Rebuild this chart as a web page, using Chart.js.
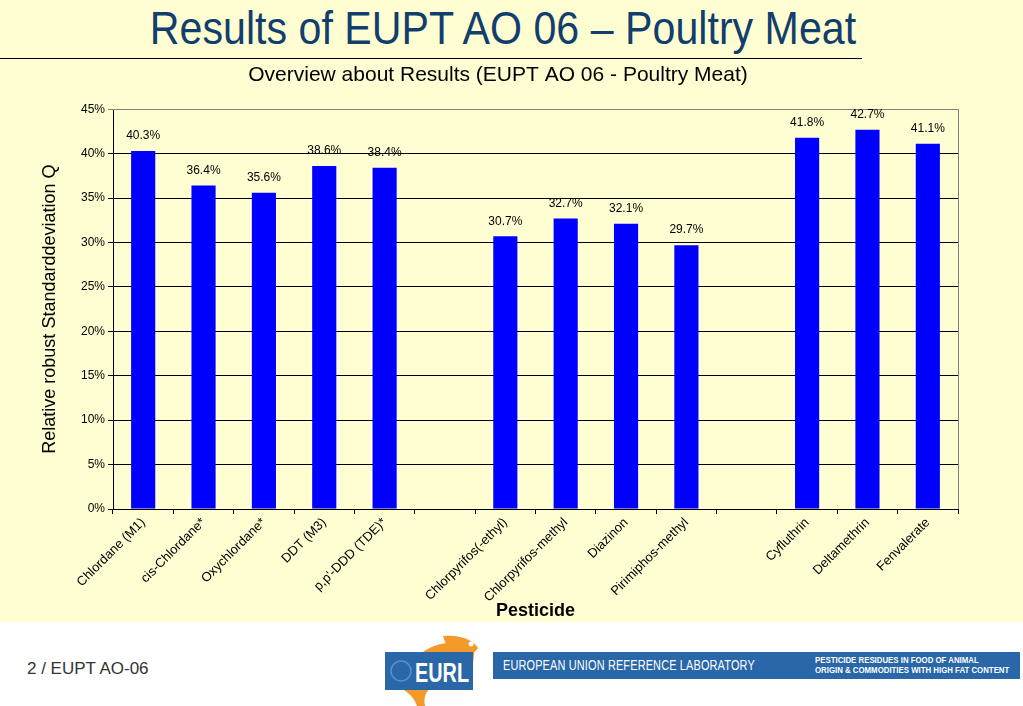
<!DOCTYPE html>
<html>
<head>
<meta charset="utf-8">
<script src="https://cdn.jsdelivr.net/npm/chart.js@4.4.1/dist/chart.umd.min.js"></script>
<style>
  html, body { margin:0; padding:0; }
  body { width:1023px; height:706px; position:relative; overflow:hidden; background:#fff; font-family:"Liberation Sans", Arial, sans-serif; }
  #slide { position:absolute; left:0; top:0; width:1023px; height:622px; background:#fefed2; }
  #heading { position:absolute; left:0; width:1006px; top:1px; text-align:center; font-size:46px; color:#123e6e; white-space:nowrap; transform:scaleX(0.895); transform-origin:503px 0; }
  #rule { position:absolute; left:0; top:58px; width:862px; height:1px; background:#000; }
  #wrap { position:absolute; left:0; top:60px; width:1023px; height:562px; }
  #footer { position:absolute; left:27px; top:659px; font-size:17px; color:#333; }
  #banner { position:absolute; left:493px; top:652px; width:527px; height:27px; background:#2a67a8; color:#fff; }
  #banner .l { position:absolute; left:10px; top:5px; font-size:14px; letter-spacing:0.2px; transform:scaleX(0.78); transform-origin:0 0; white-space:nowrap; }
  #banner .r { position:absolute; left:322px; top:3px; font-size:9px; font-weight:bold; line-height:10px; transform:scaleX(0.87); transform-origin:0 0; white-space:nowrap; }
</style>
</head>
<body>
<div id="slide">
  <div id="heading">Results of EUPT AO 06 – Poultry Meat</div>
  <div id="rule"></div>
  <div id="wrap"><canvas id="c" width="1023" height="562"></canvas></div>
</div>
<div id="footer">2 / EUPT AO-06</div>
<svg style="position:absolute;left:383px;top:634px" width="100" height="72">
  <path d="M60 2 C80 0 92 8 95 14 C90 22 78 24 66 20 Z" fill="#f39a2b"/>
  <path d="M30 30 C40 10 70 4 92 12 L90 30 Z" fill="#f39a2b"/>
  <path d="M10 50 C20 55 30 60 34 72 L42 72 C40 62 44 56 50 52 Z" fill="#f39a2b"/>
  <circle cx="88" cy="10" r="2.5" fill="#fff"/>
  <rect x="2" y="18" width="88" height="38" fill="#2a67a8"/>
  <circle cx="18" cy="37" r="10" fill="none" stroke="#5b8fc7" stroke-width="1.5"/>
  <text x="32" y="48" font-family="Liberation Sans, Arial" font-weight="bold" font-size="27" fill="#fff" textLength="54" lengthAdjust="spacingAndGlyphs">EURL</text>
</svg>
<div id="banner"><div class="l">EUROPEAN UNION REFERENCE LABORATORY</div><div class="r">PESTICIDE RESIDUES IN FOOD OF ANIMAL<br>ORIGIN &amp; COMMODITIES WITH HIGH FAT CONTENT</div></div>
<script>
const categories = ["Chlordane (M1)","cis-Chlordane*","Oxychlordane*","DDT (M3)","p,p'-DDD (TDE)*","","Chlorpyrifos(-ethyl)","Chlorpyrifos-methyl","Diazinon","Pirimiphos-methyl","","Cyfluthrin","Deltamethrin","Fenvalerate"];
const values = [40.3, 36.4, 35.6, 38.6, 38.4, null, 30.7, 32.7, 32.1, 29.7, null, 41.8, 42.7, 41.1];
const yTicks = [0,5,10,15,20,25,30,35,40,45];

const FONT = "'Liberation Sans', Arial, sans-serif";

const borderPlugin = {
  id: 'borderPlugin',
  beforeDatasetsDraw(chart) {
    const a = chart.chartArea, ctx = chart.ctx;
    ctx.save();
    ctx.strokeStyle = '#808080'; ctx.lineWidth = 1;
    ctx.beginPath();
    ctx.moveTo(a.left, Math.round(a.top)+0.5); ctx.lineTo(Math.round(a.right)+0.5, Math.round(a.top)+0.5);
    ctx.lineTo(Math.round(a.right)+0.5, a.bottom);
    ctx.stroke();
    ctx.restore();
  }
};
const labelPlugin = {
  id: 'labelPlugin',
  afterDatasetsDraw(chart) {
    const ctx = chart.ctx;
    const meta = chart.getDatasetMeta(0);
    ctx.save();
    ctx.font = "12px " + FONT;
    ctx.fillStyle = '#000';
    ctx.textAlign = 'center';
    ctx.textBaseline = 'bottom';
    meta.data.forEach((bar, i) => {
      const v = values[i];
      if (v == null) return;
      ctx.fillText(v.toFixed(1) + '%', bar.x, bar.y - 9);
    });
    ctx.restore();
  }
};

new Chart(document.getElementById('c'), {
  type: 'bar',
  data: { labels: categories, datasets: [{ data: values, backgroundColor: '#0000ff', borderWidth: 0, barPercentage: 0.8, categoryPercentage: 0.5 }] },
  options: {
    responsive: false, animation: false,
    layout: { padding: { left: 38, right: 65, top: 0, bottom: 0 } },
    plugins: {
      legend: { display: false }, tooltip: { enabled: false },
      title: { display: true, text: 'Overview about Results (EUPT AO 06 - Poultry Meat)', color: '#000', font: { family: FONT, size: 21, weight: 'normal' }, padding: { top: 3, bottom: 21 } }
    },
    scales: {
      x: {
        offset: true,
        grid: { offset: true, drawOnChartArea: false, drawTicks: true, tickLength: 5, color: '#000' },
        border: { color: '#000' },
        ticks: { maxRotation: 45, minRotation: 45, autoSkip: false, color: '#000', font: { family: FONT, size: 13 }, padding: 1 },
        title: { display: true, text: 'Pesticide', color: '#000', font: { family: FONT, size: 18, weight: 'bold' }, padding: { top: 0, bottom: 0 } },
        afterFit(s) { s.height = 113; }
      },
      y: {
        min: 0, max: 45,
        afterBuildTicks(s) { s.ticks = yTicks.map(v => ({ value: v })); },
        grid: { color: (c) => c.tick && c.tick.value === 45 ? '#808080' : '#000', tickLength: 5, drawTicks: true },
        border: { color: '#000' },
        ticks: { color: '#000', font: { family: FONT, size: 12 }, padding: 3, callback: v => v + '%' },
        title: { display: true, text: 'Relative robust Standarddeviation Q', color: '#000', font: { family: FONT, size: 18, weight: 'normal' }, padding: { top: 1, bottom: 0 } },
        afterFit(s) { s.width = 75; }
      }
    }
  },
  plugins: [borderPlugin, labelPlugin]
});
</script>
</body>
</html>
